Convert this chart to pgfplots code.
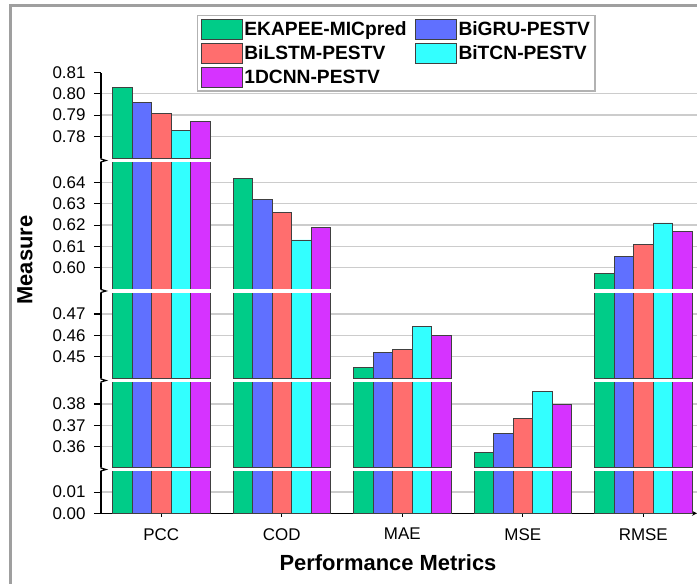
\documentclass[border=0pt]{standalone}
\usepackage{pgfplots}
\pgfplotsset{compat=1.18}
\usepackage{pgfplotstable}
\usepackage{fontspec}
\setmainfont{Liberation Sans}

\definecolor{cEK}{HTML}{00CC88}
\definecolor{cGRU}{HTML}{6070FF}
\definecolor{cLSTM}{HTML}{FF6E6E}
\definecolor{cTCN}{HTML}{33FFFF}
\definecolor{cCNN}{HTML}{D633FF}

% one row per metric, one column per model
\pgfplotstableread{
x  ek     gru    lstm   tcn    cnn
0  0.803  0.796  0.791  0.783  0.787
1  0.642  0.632  0.626  0.613  0.619
2  0.445  0.452  0.4535 0.464  0.460
3  0.357  0.366  0.373  0.386  0.380
4  0.597  0.605  0.611  0.621  0.617
}\metrics

\pgfplotsset{
  seg/.style={
    x=120.5bp, y=2120bp,
    xmin=-0.5, xmax=4.446,
    enlargelimits=false,
    scaled y ticks=false,
    anchor=south west,
    ybar=0pt, bar width=19.5bp,
    axis y line=left,
    axis line style={-, line width=1.2bp, black},
    tick style={line width=1.1bp, black},
    tick align=outside, major tick length=7bp,
    ymajorgrids=true, xmajorgrids=false,
    major grid style={line width=1.2bp, gray!40},
    yticklabel style={font=\fontsize{17}{17}\selectfont, xshift=-5bp},
    xticklabel style={font=\fontsize{17}{17}\selectfont, yshift=-8bp},
  },
  % a middle piece of the broken value axis
  mid/.style={seg, axis x line=none, restrict y to domain=#1:2},
}

\newcommand\bars{%
  \addplot[fill=cEK,   draw=black!75, line width=0.8bp, bar shift=-39bp]   table[x=x,y=ek]{\metrics};
  \addplot[fill=cGRU,  draw=black!75, line width=0.8bp, bar shift=-19.5bp] table[x=x,y=gru]{\metrics};
  \addplot[fill=cLSTM, draw=black!75, line width=0.8bp, bar shift=0bp]     table[x=x,y=lstm]{\metrics};
  \addplot[fill=cTCN,  draw=black!75, line width=0.8bp, bar shift=19.5bp]  table[x=x,y=tcn]{\metrics};
  \addplot[fill=cCNN,  draw=black!75, line width=0.8bp, bar shift=39bp]    table[x=x,y=cnn]{\metrics};
}

\begin{document}
\begin{tikzpicture}
\path[use as bounding box] (0,0) rectangle (697bp,584bp);

% outer frame
\draw[gray!75, line width=3bp] (10bp,0) -- (10bp,578.7bp) -- (697bp,578.7bp);

% top segment with legend
\begin{axis}[mid=0.76953, at={(101bp,425.5bp)}, ymin=0.76953, ymax=0.81,
  ytick={0.78,0.79,0.80}, yticklabels={0.78,0.79,0.80},
  extra y ticks={0.81}, extra y tick labels={0.81},
  extra y tick style={ymajorgrids=false},
  legend columns=2, legend cell align=left,
  legend entries={EKAPEE-MICpred,BiGRU-PESTV,BiLSTM-PESTV,BiTCN-PESTV,1DCNN-PESTV},
  legend image code/.code={\draw[#1] (0bp,-10bp) rectangle (41bp,10bp);},
  legend style={at={(axis description cs:0.161,1.672)}, anchor=north west,
    draw=gray!60, line width=1.2bp, fill=white,
    font=\bfseries\fontsize{19.3}{19.3}\selectfont,
    inner sep=3bp, row sep=3.5bp,
    /tikz/every even column/.append style={column sep=6bp}},
]
\bars
\end{axis}

\begin{axis}[mid=0.58986, at={(101bp,295bp)}, ymin=0.58986, ymax=0.64953,
  ytick={0.60,0.61,0.62,0.63,0.64}, yticklabels={0.60,0.61,0.62,0.63,0.64}]
\bars
\end{axis}

\begin{axis}[mid=0.4396, at={(101bp,205.5bp)}, ymin=0.4396, ymax=0.4799,
  ytick={0.45,0.46,0.47}, yticklabels={0.45,0.46,0.47}]
\bars
\end{axis}

\begin{axis}[mid=0.35005, at={(101bp,116.5bp)}, ymin=0.35005, ymax=0.39014,
  ytick={0.36,0.37,0.38}, yticklabels={0.36,0.37,0.38}]
\bars
\end{axis}

% bottom segment, carries the category axis
\begin{axis}[seg, at={(101bp,70.7bp)}, ymin=0, ymax=0.01972,
  axis x line=bottom,
  ytick={0,0.01}, yticklabels={0.00,0.01},
  xtick={0,1,2,3,4}, xticklabels={PCC,COD,MAE,MSE,RMSE}]
\bars
\end{axis}

% break marks on the value axis
\foreach \yb in {423.5,293,203.5,114.5}{
  \draw[black, line width=1.2bp] (101bp,\yb bp+2.5bp) -- (101bp,\yb bp+1.5bp) -- (106bp,\yb bp) -- (101bp,\yb bp-1.5bp) -- (101bp,\yb bp-2.5bp);
}

\node[rotate=90, font=\bfseries\fontsize{22}{22}\selectfont] at (25bp,324bp) {Measure};
\node[font=\bfseries\fontsize{22}{22}\selectfont] at (388bp,21bp) {Performance Metrics};
\end{tikzpicture}
\end{document}
